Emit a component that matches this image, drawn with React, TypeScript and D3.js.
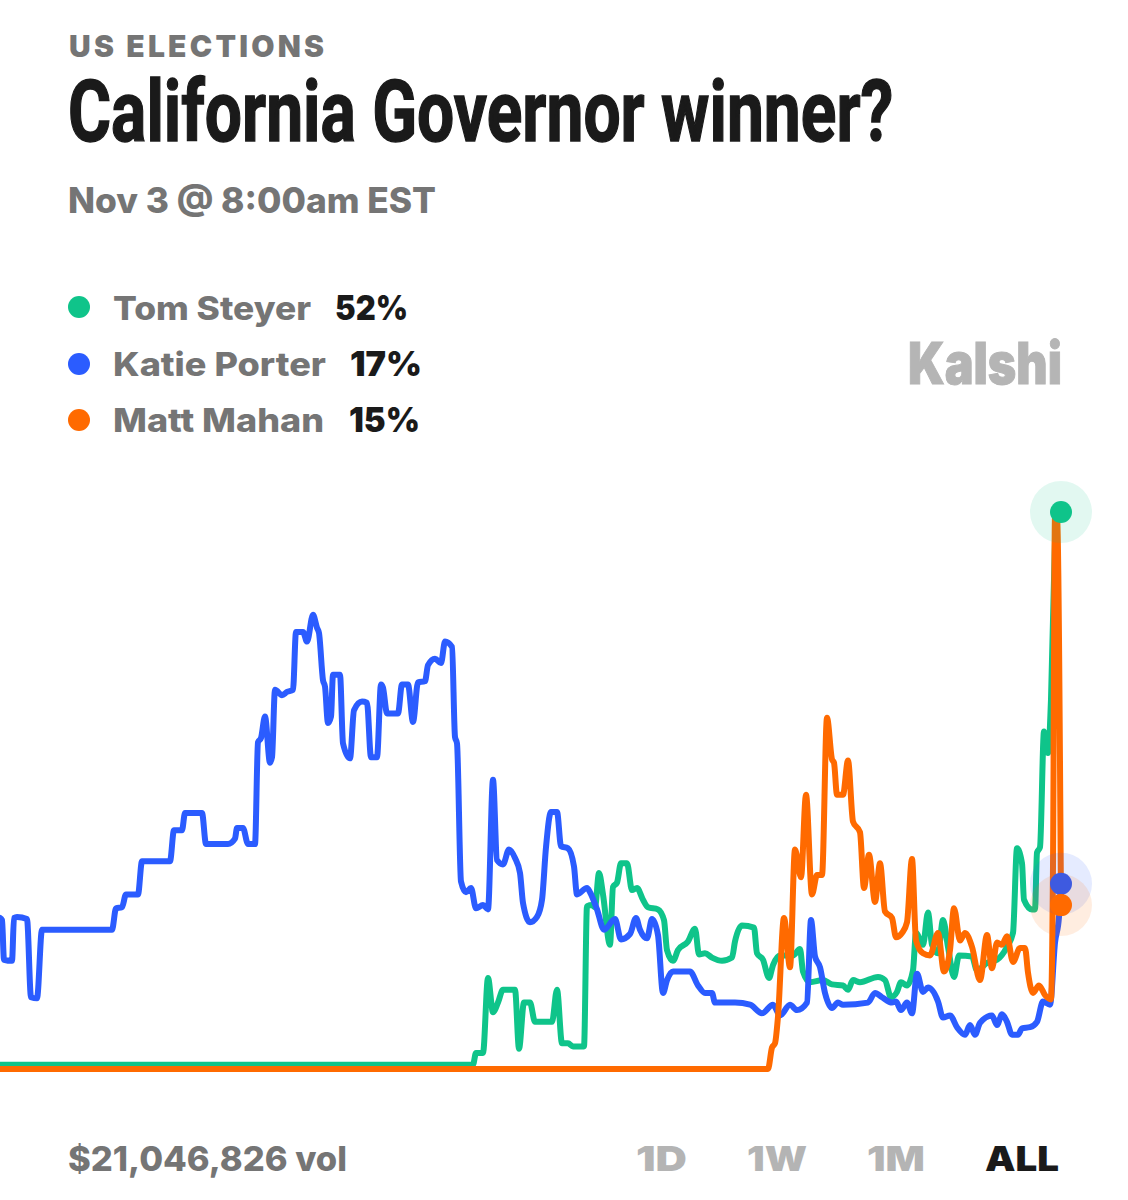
import * as d3 from 'd3';

type Point = [number, number];

const kicker = 'US ELECTIONS';
const title = 'California Governor winner?';
const subtitle = 'Nov 3 @ 8:00am EST';
const volume = '$21,046,826 vol';
const ranges = ['1D', '1W', '1M', 'ALL'];

const names = ['Tom Steyer', 'Katie Porter', 'Matt Mahan'];
const odds = ['52%', '17%', '15%'];
const colors = ['#0fc48a', '#2b5cff', '#ff6a00'];
const endDotColors = ['#0fc48a', '#3e5ae0', '#ff6a00'];

// [time step, chance in %]
const steyerPoints: Point[] = [
  [0, 0.4], [236.5, 0.4], [238, 1.5], [241.5, 1.5], [244, 8.5], [246.5, 5.3], [249, 6.2], [251.5, 7.4], [257.5, 7.4],
  [259.5, 1.9], [262, 6.2], [265, 6.2], [267.5, 4.4], [276, 4.4], [278.5, 7.4], [281, 2.4], [284, 2.4], [286.5, 2.1],
  [292, 2.1], [293.5, 15.2], [296, 15.3], [297.5, 15.1], [299.5, 18.3], [301.5, 16.3], [305, 11.6], [306.5, 17],
  [308.5, 17.4], [310.5, 19.2], [313.5, 19.2], [316, 16.7], [318.5, 16.9], [321.5, 15.8], [324, 15.1], [329, 14.9],
  [332, 13.9], [333.5, 11.1], [336.5, 10.1], [339, 11.1], [344, 11.9], [347.5, 13.1], [349.5, 10.7], [352.5, 10.8],
  [356, 10.4], [361, 10.1], [366, 10.4], [367.5, 11.9], [371, 13.4], [377, 13.2], [378.5, 10.8], [381.5, 10.2],
  [384.5, 8.5], [386.5, 9.7], [390, 10.6], [396.5, 10.6], [400, 11.2], [401.5, 9.1], [405, 8.1], [411.5, 8.3],
  [416, 7.9], [421.5, 7.8], [424, 7.4], [426.5, 8.3], [430, 8.1], [439, 8.6], [442.5, 8.3], [445.5, 6.7], [448.5, 7.2],
  [450.5, 8.1], [453.5, 7.8], [456.5, 9.2], [458, 12.7], [461.5, 11.6], [464, 14.6], [466, 11.6], [469, 10.8],
  [471.5, 13.9], [474, 11.4], [477, 8.6], [479.5, 10.6], [486, 10.5], [488.5, 9.2], [493.5, 9.9], [498.5, 10.2],
  [503.5, 11.4], [506.5, 12.7], [508.5, 20.6], [511, 19.2], [512, 15.8], [516, 14.9], [517.5, 14.9], [518.5, 20.2],
  [520, 20.7], [522, 31.5], [524, 29.5], [525.5, 34.5], [527.5, 49.4], [528, 51.7], [530.5, 52],
];

const porterPoints: Point[] = [
  [0, 14.1], [1, 13.9], [2, 10.2], [6, 10.1], [7, 14.1], [8.5, 14.2], [13.5, 14], [15.5, 6.7], [18.5, 6.6], [21, 13],
  [56, 13], [58, 15], [61, 15.1], [63, 16.3], [69, 16.3], [71, 19.4], [85, 19.4], [87, 22.3], [91, 22.3], [92.5, 23.9],
  [101, 23.9], [103, 21], [114, 21], [117.5, 21.5], [118.5, 22.5], [121.5, 22.5], [124, 21], [127.5, 21], [129, 30.5],
  [130.5, 30.9], [132.5, 32.9], [135, 28.6], [136, 29.1], [137.5, 35.4], [141, 34.9], [143.5, 35.2], [146.5, 35.4],
  [148, 40.8], [151.5, 40.8], [153.5, 39.9], [156.5, 42.4], [158.5, 41.2], [159.5, 40.7], [161.5, 36.3], [162.5, 35.7],
  [164, 32.3], [165.5, 32.9], [166.5, 36.8], [170, 36.8], [171.5, 30.4], [175, 29], [177, 33.5], [181, 34.3],
  [183.5, 34.2], [185.5, 29.1], [188.5, 29.1], [190.5, 35.9], [191.5, 35.6], [193.5, 33.2], [199, 33.2], [201, 35.9],
  [204, 35.9], [206.5, 32.4], [209, 36.1], [212.5, 36.2], [214, 37.7], [217.5, 38.3], [220.5, 37.9], [222.5, 39.9],
  [226, 39.4], [227.5, 31], [228.5, 30.4], [230.5, 17.5], [233, 16.5], [235.5, 16.9], [238, 15], [241.5, 15.3],
  [244, 14.9], [246.5, 27], [248.5, 19.5], [251.5, 19.1], [254.5, 20.5], [257.5, 19.7], [260, 18.3], [261.5, 15.5],
  [265, 13.7], [268.5, 14.2], [271, 15.8], [273, 20.7], [275.5, 24], [278.5, 24], [280.5, 20.8], [284, 20.6],
  [287, 18.9], [288.5, 16.3], [293.5, 16.9], [295, 16.5], [298.5, 14.9], [302, 13], [307.5, 14], [310.5, 12.1],
  [315, 12.6], [318, 14.1], [320, 13], [323.5, 12.2], [326, 14], [329, 12.5], [331.5, 7.1], [333.5, 8.3], [336.5, 9.1],
  [345, 9.1], [349, 7.8], [352.5, 7.1], [356, 7.1], [357.5, 6.2], [367.5, 6.2], [375, 6], [381, 5.2], [386.5, 6],
  [390, 5], [395, 6], [398.5, 5.5], [403.5, 6.2], [405.5, 13.9], [407.5, 10.5], [410, 9.5], [412.5, 7.1], [416, 5.7],
  [419, 6.2], [421.5, 6], [434, 6.2], [437.5, 7.1], [441, 6.7], [446, 6.2], [448, 6.3], [450.5, 5.5], [453.5, 6.2],
  [456, 5.2], [458.5, 8.9], [461.5, 7.2], [464, 7.6], [469, 6.3], [471.5, 4.8], [475, 5], [478.5, 3.9], [482.5, 3.2],
  [485, 4.1], [487.5, 3.2], [490, 4.3], [496, 5], [498.5, 4.1], [501, 5.1], [503.5, 4.4], [506, 3.2], [509, 3.2],
  [511, 3.8], [515, 3.9], [518.5, 4.4], [521.5, 6.3], [525, 6], [527.5, 11.8], [529.5, 14.2], [530.5, 17.3],
];

const mahanPoints: Point[] = [
  [0, 0], [384, 0], [386, 2], [387.5, 2.4], [389, 4.9], [392, 14.1], [395, 9.5], [397.5, 20.5], [400.5, 17.9],
  [403, 25.6], [406, 16.3], [408.5, 18.1], [411, 18.1], [413.5, 32.8], [416, 28.9], [417, 28.6], [418.5, 25.6],
  [421.5, 25.6], [424, 28.8], [426.5, 23.1], [430, 22.1], [432, 16.9], [434.5, 20], [437.5, 15.6], [440, 19.2],
  [442.5, 14.7], [446, 14.1], [448, 12.3], [451, 12.7], [453.5, 13.7], [456, 19.6], [458, 12], [461.5, 10.8],
  [465, 10.6], [469, 12.7], [472, 9.1], [475, 11.1], [477, 15], [480, 12], [482.5, 12.7], [486, 11.4], [490, 8.3],
  [493.5, 12.5], [496, 9.4], [498.5, 11.8], [501, 11.6], [503.5, 12.4], [506.5, 10], [510, 11.3], [512.5, 11.3],
  [514, 9], [516.5, 7.1], [519.5, 7.8], [522.5, 6.9], [525.5, 6.5], [526.5, 18.9], [527.5, 51.5], [528.5, 51.5],
  [530.5, 15.3],
];

const series = [steyerPoints, porterPoints, mahanPoints];

const width = 1128;
const height = 1200;

const x = d3.scaleLinear().domain([0, 528]).range([0, 1056]);
const y = d3.scaleLinear().domain([0, 52]).range([1069, 512]);

const line = d3
  .line<Point>()
  .x(d => x(d[0]))
  .y(d => y(d[1]))
  .curve(d3.curveMonotoneX);

const sans = 'Inter, "Noto Sans", sans-serif';
const grey = '#757575';
const ink = '#1a1a1a';

// fixed widths so the substitute fonts still line up with the picture
const legendRows = [
  { baseline: 320, dot: 307, nameWidth: 198, oddsX: 335, oddsWidth: 73 },
  { baseline: 376, dot: 364, nameWidth: 213, oddsX: 350, oddsWidth: 72 },
  { baseline: 432, dot: 420, nameWidth: 211, oddsX: 349, oddsWidth: 71 },
];
const rangeBoxes = [
  { x: 636, w: 51, fill: '#b4b4b4' },
  { x: 747, w: 60, fill: '#b4b4b4' },
  { x: 867, w: 58, fill: '#b4b4b4' },
  { x: 985, w: 74, fill: ink },
];

export default function App() {
  return (
    <svg
      width={width}
      height={height}
      viewBox={`0 0 ${width} ${height}`}
      style={{ position: 'absolute', left: 0, top: 0, background: '#fff' }}
    >
      <text x={69} y={57} fontFamily={sans} fontWeight={900} fontSize={30} fill={grey} textLength={255} lengthAdjust="spacing">
        {kicker}
      </text>
      <text
        transform="translate(68,141) scale(0.7,1)"
        fontFamily="Roboto, sans-serif"
        fontWeight={700}
        fontSize={85}
        fill={ink}
        stroke={ink}
        strokeWidth={1.4}
        textLength={1179}
        lengthAdjust="spacingAndGlyphs"
      >
        {title}
      </text>
      <text x={68} y={213} fontFamily={sans} fontWeight={800} fontSize={35} fill={grey} textLength={368} lengthAdjust="spacingAndGlyphs">
        {subtitle}
      </text>

      {names.map((name, i) => (
        <g key={name}>
          <circle cx={79} cy={legendRows[i].dot} r={11} fill={colors[i]} />
          <text
            x={113}
            y={legendRows[i].baseline}
            fontFamily={sans}
            fontWeight={800}
            fontSize={33}
            fill={grey}
            textLength={legendRows[i].nameWidth}
            lengthAdjust="spacingAndGlyphs"
          >
            {name}
          </text>
          <text
            x={legendRows[i].oddsX}
            y={legendRows[i].baseline}
            fontFamily={sans}
            fontWeight={900}
            fontSize={34}
            fill={ink}
            textLength={legendRows[i].oddsWidth}
            lengthAdjust="spacingAndGlyphs"
          >
            {odds[i]}
          </text>
        </g>
      ))}

      <text
        x={908}
        y={384}
        fontFamily={sans}
        fontWeight={900}
        fontSize={58}
        fill="#b5b5b5"
        stroke="#b5b5b5"
        strokeWidth={1}
        textLength={154}
        lengthAdjust="spacingAndGlyphs"
      >
        Kalshi
      </text>

      {series.map((points, i) => (
        <path
          key={names[i]}
          d={line(points) ?? ''}
          fill="none"
          stroke={colors[i]}
          strokeWidth={6}
          strokeLinejoin="round"
          strokeLinecap="round"
        />
      ))}

      {series.map((points, i) => {
        const last = points[points.length - 1];
        return <circle key={i} cx={x(last[0])} cy={y(last[1])} r={31} fill={colors[i]} opacity={0.12} />;
      })}
      {series.map((points, i) => {
        const last = points[points.length - 1];
        return <circle key={i} cx={x(last[0])} cy={y(last[1])} r={11} fill={endDotColors[i]} />;
      })}

      <text x={68} y={1171} fontFamily={sans} fontWeight={800} fontSize={34} fill={grey} textLength={279} lengthAdjust="spacingAndGlyphs">
        {volume}
      </text>
      {ranges.map((r, i) => (
        <text
          key={r}
          x={rangeBoxes[i].x}
          y={1171}
          fontFamily={sans}
          fontWeight={900}
          fontSize={34}
          fill={rangeBoxes[i].fill}
          textLength={rangeBoxes[i].w}
          lengthAdjust="spacingAndGlyphs"
        >
          {r}
        </text>
      ))}
    </svg>
  );
}
